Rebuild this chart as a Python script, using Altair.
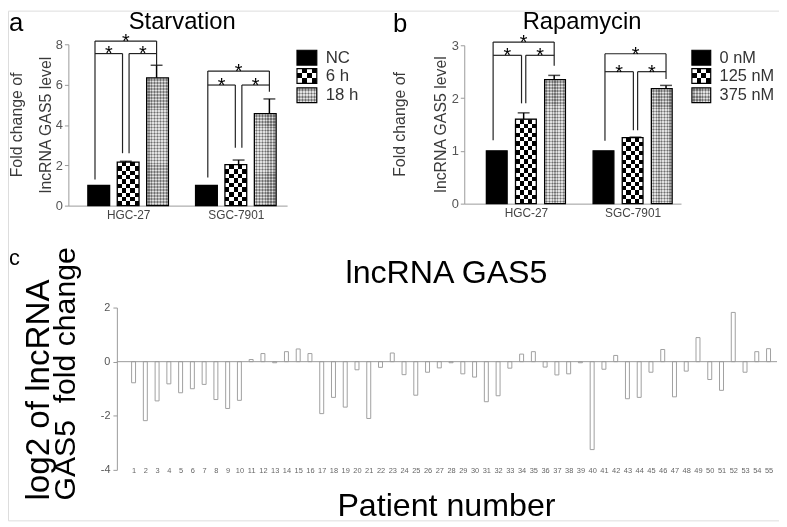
import altair as alt
import pandas as pd

FONT = "Liberation Sans"
AX = "#9a9a9a"
W, H = 779, 515   # drawing area (page is offset by the 8px body margin)

# ---------------- data ----------------
# Panel a : Starvation
a_groups = ["HGC-27", "SGC-7901"]
a_treats = ["NC", "6 h", "18 h"]
a_mean_hgc = [1.0, 2.16, 6.34]
a_mean_sgc = [1.0, 2.03, 4.56]
a_err_hgc = [0.0, 0.04, 0.62]
a_err_sgc = [0.0, 0.23, 0.73]
a_bracket_top = [8.16, 6.67]
a_bracket_low = [7.54, 5.98]
a_leg_hgc = [1.3, 2.6, 6.97]
a_leg_sgc = [1.39, 2.87, 5.65]

# Panel b : Rapamycin
b_groups = ["HGC-27", "SGC-7901"]
b_treats = ["0 nM", "125 nM", "375 nM"]
b_mean_hgc = [1.0, 1.60, 2.35]
b_mean_sgc = [1.0, 1.25, 2.18]
b_err_hgc = [0.0, 0.12, 0.08]
b_err_sgc = [0.0, 0.01, 0.06]
b_bracket_top = [3.06, 2.84]
b_bracket_low = [2.81, 2.50]
b_leg_hgc = [1.2, 1.9, 2.61]
b_leg_sgc = [1.19, 1.39, 2.36]

# Panel c : patients
c_patients = list(range(1, 56))
c_values = [-0.78, -2.18, -1.45, -0.82, -1.15, -1.0, -0.84, -1.4, -1.73, -1.43,
            0.08, 0.3, -0.04, 0.37, 0.47, 0.3, -1.92, -1.32, -1.68, -0.3,
            -2.1, -0.21, 0.32, -0.48, -1.24, -0.39, -0.23, -0.04, -0.45, -0.57,
            -1.48, -1.26, -0.24, 0.28, 0.37, -0.2, -0.49, -0.45, -0.04, -3.25,
            -0.28, 0.23, -1.37, -1.32, -0.39, 0.45, -1.3, -0.35, 0.89, -0.66,
            -1.06, 1.82, -0.39, 0.37, 0.48]

one = pd.DataFrame({"k": [0]})

# fine stipple colours for the "18 h"/"375 nM" bars
ST_ROW = ("#e0e0e0", "#a8a8a8")
ST_COL = ("#000000", "#3a3a3a")


def stripes(n, c1, c2, along_y):
    stops = []
    for i in range(n):
        col = c1 if i % 2 == 0 else c2
        stops.append({"offset": i / n, "color": col})
        stops.append({"offset": (i + 1) / n, "color": col})
    g = {"gradient": "linear", "stops": stops}
    if along_y:
        g.update(x1=0, x2=0, y1=0, y2=1)
    else:
        g.update(x1=0, x2=1, y1=0, y2=0)
    return g


def vrect(x0, y0, w, h, **mk):
    return alt.Chart(one).mark_rect(**mk).encode(
        x=alt.value(x0), x2=alt.value(x0 + w), y=alt.value(y0), y2=alt.value(y0 + h))


def vtext(x, y, txt, **mk):
    return alt.Chart(one).mark_text(text=txt, font=FONT, **mk).encode(
        x=alt.value(x), y=alt.value(y))


def bar_panel(groups, treats, means, errs, tops, lows, legs, st):
    rows = []
    for gi, g in enumerate(groups):
        for ti, t in enumerate(treats):
            m = means[gi][ti]
            er = errs[gi][ti]
            rows.append(dict(group=g, gi=gi, treat=t, ti=ti, mean=m, err=er,
                             top=m + er, pos=gi + (ti - 1) * st["d"]))
    df = pd.DataFrame(rows)

    d, e = st["d"], st["e"]
    segs, stars = [], []
    for gi in range(len(groups)):
        p0, p2 = gi - d, gi + d
        l, r = gi - e, gi + e
        top, low, lg = tops[gi], lows[gi], legs[gi]
        for s in [(p0, p2, top, top), (p0, p0, top, lg[0]), (p2, p2, top, lg[2]),
                  (p0, l, low, low), (r, p2, low, low),
                  (l, l, low, lg[1]), (r, r, low, lg[1])]:
            segs.append(dict(x=s[0], x2=s[1], y=s[2], y2=s[3]))
        for s in [(gi, top), ((p0 + l) / 2, low), ((r + p2) / 2, low)]:
            stars.append(dict(x=s[0], y=s[1]))
    seg_df = pd.DataFrame(segs)
    star_df = pd.DataFrame(stars)

    xscale = alt.Scale(domain=st["xdom"], range=st["xr"], nice=False, zero=False)
    yscale = alt.Scale(domain=st["ydom"], range=st["yr"], nice=False, zero=False)
    expr = f"datum.value < 0.5 ? '{groups[0]}' : '{groups[1]}'"
    x_axis = alt.Axis(orient="bottom", offset=st["yr"][0] - H, values=[0, 1], labelExpr=expr,
                      ticks=False, grid=False, domainColor=AX, labelColor="#444",
                      labelFontSize=12, labelPadding=4, labelFlush=False, title=None,
                      labelFont=FONT)
    y_axis = alt.Axis(orient="left", offset=-st["xr"][0], values=st["yticks"], format="d",
                      grid=False, tickSize=4, tickColor=AX, domainColor=AX, labelColor="#555",
                      labelFontSize=13, labelPadding=2, title=None, labelFont=FONT)

    def X(f, ax=None):
        return alt.X(f, type="quantitative", scale=xscale, axis=ax)

    def Y(f, ax=None):
        return alt.Y(f, type="quantitative", scale=yscale, axis=ax)

    bw = st["bw"]
    layers = []
    base = alt.Chart(df)
    layers.append(base.transform_filter("datum.ti == 0").mark_bar(
        width=bw, color="black").encode(x=X("pos", x_axis), y=Y("mean", y_axis), y2=alt.datum(0)))
    for gi in range(len(groups)):
        f6 = f"datum.ti == 1 && datum.gi == {gi}"
        f18 = f"datum.ti == 2 && datum.gi == {gi}"
        layers.append(base.transform_filter(f6).mark_bar(
            width=bw, fill=stripes(st["rows6"][gi], "black", "white", True), strokeWidth=0
        ).encode(x=X("pos"), y=Y("mean"), y2=alt.datum(0)))
        layers.append(base.transform_filter(f6).mark_bar(
            width=bw, fill=stripes(5, "white", "black", False), strokeWidth=0, blend="difference"
        ).encode(x=X("pos"), y=Y("mean"), y2=alt.datum(0)))
        layers.append(base.transform_filter(f18).mark_bar(
            width=bw, fill=stripes(st["rows18"][gi], *ST_ROW, True), strokeWidth=0
        ).encode(x=X("pos"), y=Y("mean"), y2=alt.datum(0)))
        layers.append(base.transform_filter(f18).mark_bar(
            width=bw, fill=stripes(15, *ST_COL, False), strokeWidth=0, blend="difference"
        ).encode(x=X("pos"), y=Y("mean"), y2=alt.datum(0)))
    layers.append(base.mark_bar(width=bw, fillOpacity=0, stroke="black", strokeWidth=1.3).encode(
        x=X("pos"), y=Y("mean"), y2=alt.datum(0)))
    eb = base.transform_filter("datum.err > 0")
    layers.append(eb.mark_rule(color="black", strokeWidth=1.5).encode(
        x=X("pos"), y=Y("mean"), y2=alt.Y2("top")))
    layers.append(eb.mark_tick(orient="horizontal", size=12, thickness=1.5, color="black").encode(
        x=X("pos"), y=Y("top")))
    layers.append(alt.Chart(seg_df).mark_rule(color="#222", strokeWidth=1.2).encode(
        x=X("x"), x2=alt.X2("x2"), y=Y("y"), y2=alt.Y2("y2")))
    layers.append(alt.Chart(star_df).mark_text(text="*", font=FONT, fontSize=20, dy=7,
                                               baseline="alphabetic", align="center",
                                               color="black").encode(x=X("x"), y=Y("y")))
    # legend
    lx, lw, lh = st["leg_x"], st["leg_w"], 15
    tops_l = st["leg_tops"]
    layers.append(vrect(lx, tops_l[0], lw, lh, color="black"))
    layers.append(vrect(lx, tops_l[1], lw, lh, fill=stripes(3, "black", "white", True), strokeWidth=0))
    layers.append(vrect(lx, tops_l[1], lw, lh, fill=stripes(4, "white", "black", False),
                        strokeWidth=0, blend="difference"))
    layers.append(vrect(lx, tops_l[2], lw, lh, fill=stripes(9, *ST_ROW, True), strokeWidth=0))
    layers.append(vrect(lx, tops_l[2], lw, lh, fill=stripes(13, *ST_COL, False),
                        strokeWidth=0, blend="difference"))
    for t in tops_l:
        layers.append(vrect(lx, t, lw, lh, fillOpacity=0, stroke="black", strokeWidth=1.2))
    for t, name in zip(tops_l, treats):
        layers.append(vtext(lx + lw + 9, t + lh / 2, name, fontSize=st["leg_fs"], align="left",
                            baseline="middle", color="#333"))
    # titles
    tx, ty = st["title_pos"]
    layers.append(vtext(tx, ty, st["title"], fontSize=24, align="center",
                        baseline="alphabetic", color="black"))
    lx_, ly_ = st["letter_pos"]
    layers.append(vtext(lx_, ly_, st["letter"], fontSize=26, align="left",
                        baseline="alphabetic", color="black"))
    yc = (st["yr"][0] + st["yr"][1]) / 2
    layers.append(vtext(st["yt"][0], yc, "Fold change of", fontSize=16, angle=270,
                        align="center", baseline="middle", color="#3a3a3a"))
    layers.append(vtext(st["yt"][1], yc, "lncRNA GAS5 level", fontSize=16, angle=270,
                        align="center", baseline="middle", color="#3a3a3a"))
    return layers


layers_a = bar_panel(
    a_groups, a_treats, [a_mean_hgc, a_mean_sgc], [a_err_hgc, a_err_sgc],
    a_bracket_top, a_bracket_low, [a_leg_hgc, a_leg_sgc],
    dict(xr=[61, 282], yr=[197, 34], xdom=[-0.509, 1.430], ydom=[0, 8], yticks=[0, 2, 4, 6, 8],
         d=0.273, e=0.029, bw=22, rows6=[10, 9], rows18=[86, 62],
         leg_x=292, leg_w=20, leg_tops=[40, 58.5, 78], leg_fs=17,
         title="Starvation", title_pos=(176, 19), letter="a", letter_pos=(1, 21), yt=(9, 38)))

layers_b = bar_panel(
    b_groups, b_treats, [b_mean_hgc, b_mean_sgc], [b_err_hgc, b_err_sgc],
    b_bracket_top, b_bracket_low, [b_leg_hgc, b_leg_sgc],
    dict(xr=[461, 680], yr=[195, 35], xdom=[-0.531, 1.407], ydom=[0, 3], yticks=[0, 1, 2, 3],
         d=0.273, e=0.019, bw=21, rows6=[19, 15], rows18=[83, 77],
         leg_x=691, leg_w=19, leg_tops=[40, 58.5, 78], leg_fs=16.5,
         title="Rapamycin", title_pos=(580, 19), letter="b", letter_pos=(389, 22), yt=(396, 438)))

# ---------------- panel c ----------------
c_xr, c_yr = [110, 777], [464, 300]
c_dom = [0, 55.3]
c_df = pd.DataFrame({"patient": c_patients, "value": c_values})
c_xs = alt.Scale(domain=c_dom, range=c_xr, nice=False, zero=False)
c_ys = alt.Scale(domain=[-4, 2], range=c_yr, nice=False, zero=False)
c_x = alt.X("patient:Q", scale=c_xs,
            axis=alt.Axis(orient="bottom", offset=c_yr[0] - H, values=c_patients,
                          labelExpr="'' + datum.value", ticks=False,
                          domain=False, grid=False, labelFontSize=7.5, labelColor="#666",
                          labelBaseline="middle", labelPadding=1, labelOverlap=False,
                          labelFlush=False, title=None, labelFont=FONT))
c_y = alt.Y("value:Q", scale=c_ys,
            axis=alt.Axis(orient="left", offset=-c_xr[0], values=[-4, -2, 0, 2],
                          labelExpr="'' + datum.value", grid=False,
                          tickSize=4, tickColor=AX, domainColor=AX, labelColor="#555",
                          labelFontSize=11, labelPadding=3, title=None, labelFont=FONT))

c_bars = alt.Chart(c_df).mark_bar(width=4, fill="white", stroke="#a0a0a0", strokeWidth=1).encode(
    x=c_x, y=c_y, y2=alt.datum(0))
zero_df = pd.DataFrame({"x0": [c_dom[0]], "x1": [c_dom[1]], "y": [0]})
c_zero = alt.Chart(zero_df).mark_rule(color=AX, strokeWidth=1).encode(
    x=alt.X("x0:Q", scale=c_xs, axis=None), x2=alt.X2("x1"),
    y=alt.Y("y:Q", scale=c_ys, axis=None))

layers_c = [
    c_bars, c_zero,
    vtext(1, 257, "c", fontSize=22, align="left", baseline="alphabetic", color="black"),
    vtext(443, 275, "lncRNA GAS5", fontSize=32.5, align="center", baseline="alphabetic", color="black"),
    vtext(443, 511, "Patient number", fontSize=32.5, align="center", baseline="alphabetic", color="black"),
    vtext(31, 495, "log2 of lncRNA", fontSize=33.5, angle=270, align="left", baseline="middle", color="black"),
    vtext(59, 495, "GAS5\u00a0 fold change", fontSize=30.5, angle=270, align="left", baseline="middle", color="black"),
]

chart = alt.layer(*(layers_a + layers_b + layers_c)).resolve_scale(
    x="independent", y="independent"
).resolve_axis(
    x="independent", y="independent"
).properties(
    width=W, height=H, padding=0, autosize=alt.AutoSizeParams(type="none")
).configure_view(strokeWidth=0, stroke="transparent").configure(font=FONT)

chart.save("out.html", embed_options={"renderer": "svg", "actions": False})
